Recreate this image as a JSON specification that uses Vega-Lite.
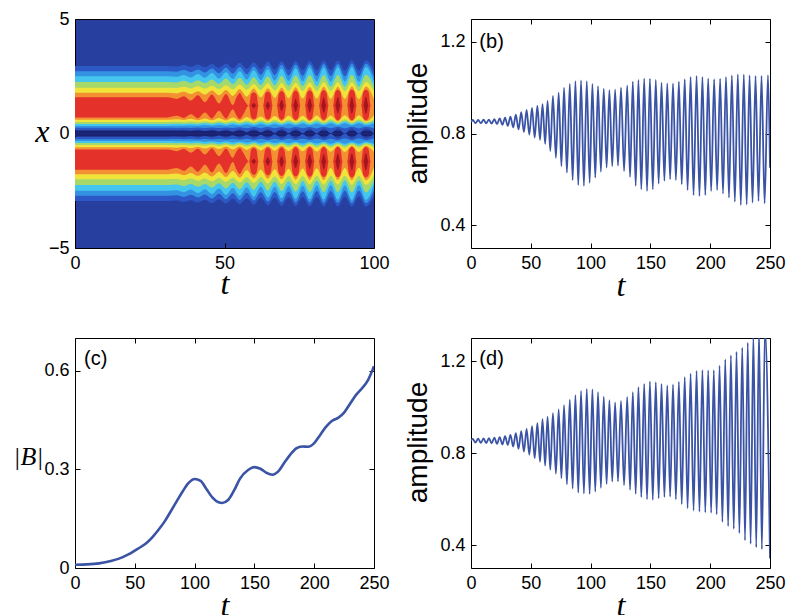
{
"$schema": "https://vega.github.io/schema/vega-lite/v6.json",
"background": "white",
"padding": {"left": 12, "top": 9, "right": 0, "bottom": 0},
"config": {
 "font": "Liberation Sans",
 "view": {"stroke": "black", "strokeWidth": 1},
 "axis": {"labelFont": "Liberation Sans", "labelFontSize": 18, "labelColor": "black", "tickColor": "black", "tickSize": -5, "labelPadding": 11, "domain": false, "grid": false, "labelFlush": false, "labelOverlap": false, "titleFont": "Liberation Serif", "titleFontStyle": "italic", "titleFontWeight": "normal", "titleFontSize": 32, "titleColor": "black"}
},
"datasets": {
 "navy": [{"t": 0, "n0": 0, "n1": 0.12}, {"t": 100, "n0": 0, "n1": 0.12}],
 "heat": [
  {"t":0,"b0":0.15,"b1":2.95,"l0":0.25,"l1":2.72,"c0":0.33,"c1":2.5,"g0":0.42,"g1":2.25,"y0":0.5,"y1":2.0,"o0":0.6,"o1":1.78},
  {"t":31,"b0":0.15,"b1":2.95,"l0":0.25,"l1":2.72,"c0":0.33,"c1":2.5,"g0":0.42,"g1":2.25,"y0":0.5,"y1":2.0,"o0":0.6,"o1":1.78},
  {"t":34,"b0":0.14,"b1":2.93,"l0":0.24,"l1":2.7,"c0":0.34,"c1":2.48,"g0":0.43,"g1":2.23,"y0":0.51,"y1":1.99,"o0":0.62,"o1":1.75},
  {"t":36.4,"b0":0.16,"b1":2.99,"l0":0.25,"l1":2.77,"c0":0.34,"c1":2.56,"g0":0.42,"g1":2.3,"y0":0.5,"y1":2.04,"o0":0.59,"o1":1.82},
  {"t":38.75,"b0":0.12,"b1":2.91,"l0":0.24,"l1":2.68,"c0":0.35,"c1":2.45,"g0":0.44,"g1":2.21,"y0":0.52,"y1":1.97,"o0":0.64,"o1":1.72},
  {"t":41.1,"b0":0.17,"b1":3.01,"l0":0.26,"l1":2.8,"c0":0.34,"c1":2.6,"g0":0.42,"g1":2.33,"y0":0.5,"y1":2.06,"o0":0.58,"o1":1.85},
  {"t":43.45,"b0":0.11,"b1":2.89,"l0":0.24,"l1":2.66,"c0":0.37,"c1":2.43,"g0":0.46,"g1":2.2,"y0":0.54,"y1":1.96,"o0":0.66,"o1":1.7},
  {"t":45.8,"b0":0.18,"b1":3.04,"l0":0.26,"l1":2.84,"c0":0.34,"c1":2.64,"g0":0.42,"g1":2.36,"y0":0.49,"y1":2.09,"o0":0.58,"o1":1.88},
  {"t":48.15,"b0":0.09,"b1":2.87,"l0":0.24,"l1":2.63,"c0":0.38,"c1":2.4,"g0":0.47,"g1":2.17,"y0":0.55,"y1":1.94,"o0":0.68,"o1":1.67},
  {"t":50.5,"b0":0.18,"b1":3.06,"l0":0.26,"l1":2.87,"c0":0.34,"c1":2.68,"g0":0.42,"g1":2.4,"y0":0.49,"y1":2.11,"o0":0.57,"o1":1.9},
  {"t":52.8,"b0":0.08,"b1":2.85,"l0":0.24,"l1":2.61,"c0":0.39,"c1":2.38,"g0":0.48,"g1":2.15,"y0":0.56,"y1":1.93,"o0":0.7,"o1":1.64},
  {"t":55.1,"b0":0.19,"b1":3.09,"l0":0.27,"l1":2.9,"c0":0.35,"c1":2.72,"g0":0.42,"g1":2.43,"y0":0.49,"y1":2.14,"o0":0.56,"o1":1.93},
  {"t":57.45,"b0":0.06,"b1":2.83,"l0":0.23,"l1":2.59,"c0":0.4,"c1":2.35,"g0":0.49,"g1":2.13,"y0":0.57,"y1":1.91,"o0":0.72,"o1":1.61},
  {"t":59.8,"b0":0.2,"b1":3.11,"l0":0.28,"l1":2.93,"c0":0.35,"c1":2.76,"g0":0.42,"g1":2.46,"y0":0.49,"y1":2.16,"o0":0.56,"o1":1.96},
  {"t":62.15,"b0":0.05,"b1":2.81,"l0":0.23,"l1":2.57,"c0":0.41,"c1":2.33,"g0":0.5,"g1":2.11,"y0":0.58,"y1":1.9,"o0":0.74,"o1":1.58},
  {"t":64.5,"b0":0.2,"b1":3.14,"l0":0.28,"l1":2.97,"c0":0.35,"c1":2.8,"g0":0.42,"g1":2.5,"y0":0.49,"y1":2.19,"o0":0.55,"o1":1.98},
  {"t":66.8,"b0":0.03,"b1":2.79,"l0":0.23,"l1":2.55,"c0":0.42,"c1":2.31,"g0":0.5,"g1":2.1,"y0":0.59,"y1":1.88,"o0":0.76,"o1":1.56},
  {"t":69.1,"b0":0.21,"b1":3.16,"l0":0.28,"l1":3.0,"c0":0.36,"c1":2.83,"g0":0.42,"g1":2.52,"y0":0.48,"y1":2.21,"o0":0.54,"o1":2.0},
  {"t":71.45,"b0":0.02,"b1":2.78,"l0":0.22,"l1":2.53,"c0":0.43,"c1":2.29,"g0":0.51,"g1":2.08,"y0":0.6,"y1":1.87,"o0":0.77,"o1":1.54},
  {"t":73.8,"b0":0.21,"b1":3.17,"l0":0.28,"l1":3.01,"c0":0.36,"c1":2.85,"g0":0.42,"g1":2.54,"y0":0.48,"y1":2.22,"o0":0.54,"o1":2.02},
  {"t":76.15,"b0":0.02,"b1":2.77,"l0":0.23,"l1":2.52,"c0":0.44,"c1":2.28,"g0":0.52,"g1":2.07,"y0":0.61,"y1":1.87,"o0":0.78,"o1":1.53},
  {"t":78.5,"b0":0.21,"b1":3.18,"l0":0.28,"l1":3.02,"c0":0.36,"c1":2.87,"g0":0.42,"g1":2.55,"y0":0.48,"y1":2.23,"o0":0.54,"o1":2.03},
  {"t":80.85,"b0":0.01,"b1":2.76,"l0":0.22,"l1":2.51,"c0":0.44,"c1":2.27,"g0":0.52,"g1":2.06,"y0":0.61,"y1":1.86,"o0":0.79,"o1":1.52},
  {"t":83.2,"b0":0.22,"b1":3.19,"l0":0.29,"l1":3.03,"c0":0.36,"c1":2.88,"g0":0.42,"g1":2.56,"y0":0.48,"y1":2.24,"o0":0.53,"o1":2.04},
  {"t":85.55,"b0":0.01,"b1":2.76,"l0":0.23,"l1":2.51,"c0":0.45,"c1":2.26,"g0":0.53,"g1":2.06,"y0":0.62,"y1":1.86,"o0":0.79,"o1":1.51},
  {"t":87.9,"b0":0.22,"b1":3.19,"l0":0.29,"l1":3.04,"c0":0.36,"c1":2.89,"g0":0.42,"g1":2.56,"y0":0.48,"y1":2.24,"o0":0.53,"o1":2.04},
  {"t":90.25,"b0":0,"b1":2.75,"l0":0.22,"l1":2.5,"c0":0.45,"c1":2.26,"g0":0.53,"g1":2.05,"y0":0.62,"y1":1.85,"o0":0.8,"o1":1.51},
  {"t":92.6,"b0":0.22,"b1":3.2,"l0":0.29,"l1":3.05,"c0":0.36,"c1":2.9,"g0":0.42,"g1":2.57,"y0":0.48,"y1":2.25,"o0":0.53,"o1":2.05},
  {"t":94.95,"b0":0,"b1":2.75,"l0":0.22,"l1":2.5,"c0":0.45,"c1":2.25,"g0":0.53,"g1":2.05,"y0":0.62,"y1":1.85,"o0":0.8,"o1":1.5},
  {"t":97.3,"b0":0.22,"b1":3.2,"l0":0.29,"l1":3.05,"c0":0.36,"c1":2.9,"g0":0.42,"g1":2.57,"y0":0.48,"y1":2.25,"o0":0.53,"o1":2.05},
  {"t":100,"b0":0,"b1":2.75,"l0":0.22,"l1":2.5,"c0":0.45,"c1":2.25,"g0":0.53,"g1":2.05,"y0":0.62,"y1":1.85,"o0":0.8,"o1":1.5}
 ],
 "blob": [
  {"t":0,"r0":0.7,"r1":1.58},{"t":31,"r0":0.7,"r1":1.58},{"t":34,"r0":0.77,"r1":1.51},{"t":36.4,"r0":0.68,"r1":1.63},{"t":38.75,"r0":0.84,"r1":1.44},{"t":41.1,"r0":0.67,"r1":1.67},{"t":43.45,"r0":0.92,"r1":1.37},{"t":45.8,"r0":0.66,"r1":1.7},{"t":48.15,"r0":0.99,"r1":1.31},{"t":50.5,"r0":0.65,"r1":1.73},{"t":52.8,"r0":1.06,"r1":1.24},{"t":53.95,"r0":0.8,"r1":1.56},{"t":55.1,"r0":0.63,"r1":1.77},{"t":56.25,"r0":0.83,"r1":1.53},
  {"t":58.2,"r0":1.22,"r1":1.22,"d0":1.22,"d1":1.22},{"t":58.9,"r0":0.72,"r1":1.7,"d0":1.22,"d1":1.22},{"t":59.8,"r0":0.62,"r1":1.8,"d0":1.1,"d1":1.33},{"t":60.7,"r0":0.72,"r1":1.7,"d0":1.22,"d1":1.22},{"t":61.4,"r0":1.22,"r1":1.22,"d0":1.22,"d1":1.22},
  {"t":62.9,"r0":1.22,"r1":1.22,"d0":1.22,"d1":1.22},{"t":63.6,"r0":0.71,"r1":1.73,"d0":1.22,"d1":1.22},{"t":64.5,"r0":0.61,"r1":1.83,"d0":1.03,"d1":1.4},{"t":65.4,"r0":0.71,"r1":1.73,"d0":1.22,"d1":1.22},{"t":66.1,"r0":1.22,"r1":1.22,"d0":1.22,"d1":1.22},
  {"t":67.5,"r0":1.22,"r1":1.22,"d0":1.22,"d1":1.22},{"t":68.2,"r0":0.71,"r1":1.75,"d0":1.22,"d1":1.22},{"t":69.1,"r0":0.6,"r1":1.86,"d0":0.98,"d1":1.47},{"t":70,"r0":0.71,"r1":1.75,"d0":1.22,"d1":1.22},{"t":70.7,"r0":1.22,"r1":1.22,"d0":1.22,"d1":1.22},
  {"t":72.2,"r0":1.22,"r1":1.22,"d0":1.22,"d1":1.22},{"t":72.9,"r0":0.7,"r1":1.77,"d0":1.22,"d1":1.22},{"t":73.8,"r0":0.59,"r1":1.88,"d0":0.93,"d1":1.52},{"t":74.7,"r0":0.7,"r1":1.77,"d0":1.22,"d1":1.22},{"t":75.4,"r0":1.22,"r1":1.22,"d0":1.22,"d1":1.22},
  {"t":76.9,"r0":1.22,"r1":1.22,"d0":1.22,"d1":1.22},{"t":77.6,"r0":0.7,"r1":1.78,"d0":1.22,"d1":1.22},{"t":78.5,"r0":0.59,"r1":1.89,"d0":0.91,"d1":1.55},{"t":79.4,"r0":0.7,"r1":1.78,"d0":1.22,"d1":1.22},{"t":80.1,"r0":1.22,"r1":1.22,"d0":1.22,"d1":1.22},
  {"t":81.6,"r0":1.22,"r1":1.22,"d0":1.22,"d1":1.22},{"t":82.3,"r0":0.7,"r1":1.79,"d0":1.22,"d1":1.22},{"t":83.2,"r0":0.59,"r1":1.9,"d0":0.89,"d1":1.58},{"t":84.1,"r0":0.7,"r1":1.79,"d0":1.22,"d1":1.22},{"t":84.8,"r0":1.22,"r1":1.22,"d0":1.22,"d1":1.22},
  {"t":86.3,"r0":1.22,"r1":1.22,"d0":1.22,"d1":1.22},{"t":87,"r0":0.69,"r1":1.8,"d0":1.22,"d1":1.22},{"t":87.9,"r0":0.58,"r1":1.91,"d0":0.87,"d1":1.6},{"t":88.8,"r0":0.69,"r1":1.8,"d0":1.22,"d1":1.22},{"t":89.5,"r0":1.22,"r1":1.22,"d0":1.22,"d1":1.22},
  {"t":91,"r0":1.22,"r1":1.22,"d0":1.22,"d1":1.22},{"t":91.7,"r0":0.69,"r1":1.81,"d0":1.22,"d1":1.22},{"t":92.6,"r0":0.58,"r1":1.92,"d0":0.86,"d1":1.61},{"t":93.5,"r0":0.69,"r1":1.81,"d0":1.22,"d1":1.22},{"t":94.2,"r0":1.22,"r1":1.22,"d0":1.22,"d1":1.22},
  {"t":95.7,"r0":1.22,"r1":1.22,"d0":1.22,"d1":1.22},{"t":96.4,"r0":0.69,"r1":1.81,"d0":1.22,"d1":1.22},{"t":97.3,"r0":0.58,"r1":1.92,"d0":0.85,"d1":1.62},{"t":98.2,"r0":0.69,"r1":1.81,"d0":1.22,"d1":1.22},{"t":98.9,"r0":1.22,"r1":1.22,"d0":1.22,"d1":1.22},
  {"t":100,"r0":1.22,"r1":1.22,"d0":1.22,"d1":1.22}
 ],
 "b": [{"t":0,"a":0.85},{"t":1.5,"a":0.859},{"t":3.75,"a":0.845},{"t":6,"a":0.859},{"t":8.25,"a":0.845},{"t":10.5,"a":0.86},{"t":12.75,"a":0.844},{"t":15,"a":0.861},{"t":17.25,"a":0.843},{"t":19.5,"a":0.863},{"t":21.75,"a":0.841},{"t":24,"a":0.866},{"t":26.25,"a":0.838},{"t":28.5,"a":0.869},{"t":30.75,"a":0.833},{"t":33,"a":0.874},{"t":35.25,"a":0.827},{"t":37.5,"a":0.882},{"t":39.75,"a":0.818},{"t":42,"a":0.893},{"t":44.25,"a":0.806},{"t":46.5,"a":0.903},{"t":48.75,"a":0.795},{"t":51,"a":0.912},{"t":53.25,"a":0.782},{"t":55.5,"a":0.92},{"t":57.7,"a":0.772},{"t":59.8,"a":0.928},{"t":62,"a":0.755},{"t":64,"a":0.942},{"t":66.3,"a":0.724},{"t":68.5,"a":0.964},{"t":71,"a":0.694},{"t":73.3,"a":0.978},{"t":75.6,"a":0.658},{"t":77.8,"a":1.0},{"t":80.2,"a":0.629},{"t":82.6,"a":1.017},{"t":85,"a":0.596},{"t":87.3,"a":1.029},{"t":89.7,"a":0.575},{"t":92,"a":1.032},{"t":94.4,"a":0.571},{"t":96.8,"a":1.029},{"t":99.2,"a":0.585},{"t":101.5,"a":1.017},{"t":103.9,"a":0.607},{"t":106.2,"a":1.007},{"t":108.6,"a":0.633},{"t":111,"a":0.996},{"t":113.4,"a":0.651},{"t":115.7,"a":0.989},{"t":118.1,"a":0.658},{"t":120.5,"a":0.991},{"t":122.9,"a":0.66},{"t":125.4,"a":1.0},{"t":128,"a":0.636},{"t":130.6,"a":1.01},{"t":133,"a":0.61},{"t":135.3,"a":1.026},{"t":137.7,"a":0.571},{"t":140,"a":1.034},{"t":142.4,"a":0.556},{"t":144.8,"a":1.041},{"t":147.2,"a":0.549},{"t":149.6,"a":1.04},{"t":152,"a":0.556},{"t":154.5,"a":1.034},{"t":156.9,"a":0.581},{"t":159.3,"a":1.022},{"t":161.7,"a":0.593},{"t":164.1,"a":1.019},{"t":166.5,"a":0.6},{"t":168.9,"a":1.019},{"t":171.3,"a":0.596},{"t":173.8,"a":1.026},{"t":176.2,"a":0.578},{"t":178.7,"a":1.037},{"t":181.1,"a":0.553},{"t":183.6,"a":1.047},{"t":186.1,"a":0.531},{"t":188.6,"a":1.051},{"t":191,"a":0.527},{"t":193.5,"a":1.047},{"t":195.9,"a":0.531},{"t":198.3,"a":1.041},{"t":200.8,"a":0.549},{"t":203.3,"a":1.037},{"t":205.8,"a":0.553},{"t":208.3,"a":1.039},{"t":210.7,"a":0.538},{"t":213.2,"a":1.047},{"t":215.7,"a":0.52},{"t":218.1,"a":1.054},{"t":220.6,"a":0.502},{"t":223.1,"a":1.058},{"t":225.6,"a":0.488},{"t":228.1,"a":1.057},{"t":230.5,"a":0.49},{"t":232.9,"a":1.054},{"t":235.4,"a":0.498},{"t":237.9,"a":1.051},{"t":240.4,"a":0.505},{"t":242.9,"a":1.051},{"t":245.5,"a":0.495},{"t":248.3,"a":1.055},{"t":250,"a":0.65}],
 "c": [{"t":0,"B":0.01},{"t":10,"B":0.011},{"t":20,"B":0.014},{"t":30,"B":0.021},{"t":40,"B":0.033},{"t":45,"B":0.042},{"t":50,"B":0.053},{"t":55,"B":0.064},{"t":60,"B":0.077},{"t":65,"B":0.095},{"t":70,"B":0.117},{"t":75,"B":0.142},{"t":80,"B":0.172},{"t":85,"B":0.203},{"t":90,"B":0.233},{"t":95,"B":0.259},{"t":100,"B":0.271},{"t":105,"B":0.265},{"t":110,"B":0.24},{"t":115,"B":0.214},{"t":120,"B":0.2},{"t":123,"B":0.198},{"t":128,"B":0.207},{"t":133,"B":0.236},{"t":138,"B":0.272},{"t":145,"B":0.299},{"t":150,"B":0.307},{"t":155,"B":0.302},{"t":160,"B":0.29},{"t":165,"B":0.284},{"t":170,"B":0.294},{"t":175,"B":0.32},{"t":180,"B":0.345},{"t":185,"B":0.364},{"t":190,"B":0.37},{"t":195,"B":0.369},{"t":200,"B":0.38},{"t":205,"B":0.405},{"t":210,"B":0.43},{"t":215,"B":0.448},{"t":220,"B":0.457},{"t":225,"B":0.473},{"t":230,"B":0.5},{"t":235,"B":0.527},{"t":240,"B":0.547},{"t":245,"B":0.572},{"t":250,"B":0.614}],
 "d": [{"t":0,"a":0.853},{"t":1.5,"a":0.861},{"t":3.75,"a":0.845},{"t":6,"a":0.862},{"t":8.25,"a":0.844},{"t":10.5,"a":0.863},{"t":12.75,"a":0.843},{"t":15,"a":0.865},{"t":17.25,"a":0.842},{"t":19.5,"a":0.867},{"t":21.75,"a":0.84},{"t":24,"a":0.869},{"t":26.25,"a":0.837},{"t":28.5,"a":0.873},{"t":30.75,"a":0.835},{"t":33,"a":0.879},{"t":35.25,"a":0.828},{"t":37.5,"a":0.886},{"t":39.75,"a":0.818},{"t":42,"a":0.895},{"t":44.25,"a":0.806},{"t":46.5,"a":0.905},{"t":48.75,"a":0.793},{"t":51,"a":0.917},{"t":53.25,"a":0.778},{"t":55.5,"a":0.93},{"t":57.7,"a":0.762},{"t":59.8,"a":0.947},{"t":62,"a":0.745},{"t":64,"a":0.958},{"t":66.3,"a":0.728},{"t":68.5,"a":0.973},{"t":71,"a":0.71},{"t":73.3,"a":0.99},{"t":75.6,"a":0.69},{"t":77.8,"a":1.008},{"t":80.2,"a":0.664},{"t":82.6,"a":1.032},{"t":85,"a":0.645},{"t":87.3,"a":1.052},{"t":89.7,"a":0.628},{"t":92,"a":1.07},{"t":94.4,"a":0.624},{"t":96.8,"a":1.079},{"t":99.2,"a":0.622},{"t":101.5,"a":1.077},{"t":103.9,"a":0.632},{"t":106.2,"a":1.065},{"t":108.6,"a":0.648},{"t":111,"a":1.045},{"t":113.4,"a":0.665},{"t":115.7,"a":1.03},{"t":118.1,"a":0.676},{"t":120.5,"a":1.02},{"t":122.9,"a":0.677},{"t":125.4,"a":1.026},{"t":128,"a":0.66},{"t":130.6,"a":1.044},{"t":133,"a":0.64},{"t":135.3,"a":1.065},{"t":137.7,"a":0.622},{"t":140,"a":1.086},{"t":142.4,"a":0.608},{"t":144.8,"a":1.1},{"t":147.2,"a":0.598},{"t":149.6,"a":1.111},{"t":152,"a":0.596},{"t":154.5,"a":1.108},{"t":156.9,"a":0.603},{"t":159.3,"a":1.1},{"t":161.7,"a":0.608},{"t":164.1,"a":1.094},{"t":166.5,"a":0.61},{"t":168.9,"a":1.098},{"t":171.3,"a":0.598},{"t":173.8,"a":1.11},{"t":176.2,"a":0.578},{"t":178.7,"a":1.13},{"t":181.1,"a":0.56},{"t":183.6,"a":1.145},{"t":186.1,"a":0.55},{"t":188.6,"a":1.157},{"t":191,"a":0.545},{"t":193.5,"a":1.16},{"t":195.9,"a":0.542},{"t":198.3,"a":1.159},{"t":200.8,"a":0.54},{"t":203,"a":1.16},{"t":205.4,"a":0.533},{"t":207.8,"a":1.18},{"t":210.2,"a":0.5},{"t":212.6,"a":1.207},{"t":215,"a":0.482},{"t":217.3,"a":1.224},{"t":219.7,"a":0.47},{"t":222,"a":1.24},{"t":224.4,"a":0.452},{"t":226.8,"a":1.258},{"t":229.1,"a":0.42},{"t":231.4,"a":1.28},{"t":233.8,"a":0.405},{"t":236.1,"a":1.31},{"t":238.5,"a":0.39},{"t":240.8,"a":1.33},{"t":243.2,"a":0.382},{"t":245.8,"a":1.34},{"t":250,"a":0.341}]
},
"columns": 2,
"spacing": {"row": 90, "column": 97},
"bounds": "flush",
"concat": [
 {
  "width": 299, "height": 229,
  "data": {"name": "heat"},
  "view": {"fill": "#273f9f", "stroke": "black"},
  "encoding": {"x": {"field": "t", "type": "quantitative", "scale": {"domain": [0, 100], "nice": false}, "axis": {"values": [0, 50, 100], "title": "t", "titleY": 45, "titleBaseline": "alphabetic"}}},
  "layer": [
   {"layer": [
    {"data": {"name": "navy"}, "mark": {"type": "area", "color": "#1a2171"}, "encoding": {"y": {"field": "n0", "type": "quantitative", "scale": {"domain": [-5, 5], "nice": false}, "axis": {"values": [-5, 0, 5], "format": "d", "title": "x", "titleAngle": 0, "titleAlign": "right", "titleBaseline": "alphabetic", "titleX": -26, "titleY": 122}}, "y2": {"field": "n1"}}},
    {"mark": {"type": "area", "interpolate": "monotone", "color": "#2b58c4"}, "encoding": {"y": {"field": "b0", "type": "quantitative", "scale": {"domain": [-5, 5], "nice": false}}, "y2": {"field": "b1"}}},
    {"mark": {"type": "area", "interpolate": "monotone", "color": "#3393e2"}, "encoding": {"y": {"field": "l0", "type": "quantitative", "scale": {"domain": [-5, 5], "nice": false}}, "y2": {"field": "l1"}}},
    {"mark": {"type": "area", "interpolate": "monotone", "color": "#45c6ee"}, "encoding": {"y": {"field": "c0", "type": "quantitative", "scale": {"domain": [-5, 5], "nice": false}}, "y2": {"field": "c1"}}},
    {"mark": {"type": "area", "interpolate": "monotone", "color": "#a6d86a"}, "encoding": {"y": {"field": "g0", "type": "quantitative", "scale": {"domain": [-5, 5], "nice": false}}, "y2": {"field": "g1"}}},
    {"mark": {"type": "area", "interpolate": "monotone", "color": "#f0e33a"}, "encoding": {"y": {"field": "y0", "type": "quantitative", "scale": {"domain": [-5, 5], "nice": false}}, "y2": {"field": "y1"}}},
    {"mark": {"type": "area", "interpolate": "monotone", "color": "#f39031"}, "encoding": {"y": {"field": "o0", "type": "quantitative", "scale": {"domain": [-5, 5], "nice": false}}, "y2": {"field": "o1"}}},
    {"data": {"name": "blob"}, "mark": {"type": "area", "interpolate": "monotone", "color": "#e4322b"}, "encoding": {"y": {"field": "r0", "type": "quantitative", "scale": {"domain": [-5, 5], "nice": false}}, "y2": {"field": "r1"}}},
    {"data": {"name": "blob"}, "mark": {"type": "area", "interpolate": "monotone", "color": "#a3161b"}, "encoding": {"y": {"field": "d0", "type": "quantitative", "scale": {"domain": [-5, 5], "nice": false}}, "y2": {"field": "d1"}}},
    {"data": {"values": [{"label": "(a)"}]}, "mark": {"type": "text", "align": "left", "baseline": "middle", "fontSize": 20, "color": "white", "font": "Liberation Sans"}, "encoding": {"x": {"datum": 3, "type": "quantitative"}, "y": {"datum": 4.1, "type": "quantitative"}, "text": {"field": "label"}}}
   ]},
   {"layer": [
    {"data": {"name": "navy"}, "mark": {"type": "area", "color": "#1a2171"}, "encoding": {"y": {"field": "n0", "type": "quantitative", "scale": {"domain": [-5, 5], "nice": false, "reverse": true}, "axis": null}, "y2": {"field": "n1"}}},
    {"mark": {"type": "area", "interpolate": "monotone", "color": "#2b58c4"}, "encoding": {"y": {"field": "b0", "type": "quantitative", "scale": {"domain": [-5, 5], "nice": false, "reverse": true}, "axis": null}, "y2": {"field": "b1"}}},
    {"mark": {"type": "area", "interpolate": "monotone", "color": "#3393e2"}, "encoding": {"y": {"field": "l0", "type": "quantitative", "scale": {"domain": [-5, 5], "nice": false, "reverse": true}, "axis": null}, "y2": {"field": "l1"}}},
    {"mark": {"type": "area", "interpolate": "monotone", "color": "#45c6ee"}, "encoding": {"y": {"field": "c0", "type": "quantitative", "scale": {"domain": [-5, 5], "nice": false, "reverse": true}, "axis": null}, "y2": {"field": "c1"}}},
    {"mark": {"type": "area", "interpolate": "monotone", "color": "#a6d86a"}, "encoding": {"y": {"field": "g0", "type": "quantitative", "scale": {"domain": [-5, 5], "nice": false, "reverse": true}, "axis": null}, "y2": {"field": "g1"}}},
    {"mark": {"type": "area", "interpolate": "monotone", "color": "#f0e33a"}, "encoding": {"y": {"field": "y0", "type": "quantitative", "scale": {"domain": [-5, 5], "nice": false, "reverse": true}, "axis": null}, "y2": {"field": "y1"}}},
    {"mark": {"type": "area", "interpolate": "monotone", "color": "#f39031"}, "encoding": {"y": {"field": "o0", "type": "quantitative", "scale": {"domain": [-5, 5], "nice": false, "reverse": true}, "axis": null}, "y2": {"field": "o1"}}},
    {"data": {"name": "blob"}, "mark": {"type": "area", "interpolate": "monotone", "color": "#e4322b"}, "encoding": {"y": {"field": "r0", "type": "quantitative", "scale": {"domain": [-5, 5], "nice": false, "reverse": true}, "axis": null}, "y2": {"field": "r1"}}},
    {"data": {"name": "blob"}, "mark": {"type": "area", "interpolate": "monotone", "color": "#a3161b"}, "encoding": {"y": {"field": "d0", "type": "quantitative", "scale": {"domain": [-5, 5], "nice": false, "reverse": true}, "axis": null}, "y2": {"field": "d1"}}}
   ]}
  ],
  "resolve": {"scale": {"y": "independent"}}
 },
 {
  "width": 299, "height": 229,
  "layer": [
   {"data": {"name": "b"}, "mark": {"type": "line", "interpolate": "monotone", "color": "#3a53a5", "strokeWidth": 1.8, "clip": true},
    "encoding": {"x": {"field": "t", "type": "quantitative", "scale": {"domain": [0, 250], "nice": false}, "axis": {"values": [0, 50, 100, 150, 200, 250], "title": "t", "titleY": 47, "titleBaseline": "alphabetic"}},
     "y": {"field": "a", "type": "quantitative", "scale": {"domain": [0.3, 1.3], "nice": false, "zero": false}, "axis": {"values": [0.4, 0.8, 1.2], "format": ".1f", "title": "amplitude", "titleFont": "Liberation Sans", "titleFontStyle": "normal", "titleFontSize": 28, "titleAngle": 270, "titleAlign": "center", "titleBaseline": "alphabetic", "titleX": -45, "titleY": 104}}}},
   {"data": {"values": [{"label": "(b)"}]}, "mark": {"type": "text", "align": "left", "baseline": "middle", "fontSize": 20, "color": "black", "font": "Liberation Sans"},
    "encoding": {"x": {"datum": 7, "type": "quantitative", "axis": {"orient": "top", "values": [0, 50, 100, 150, 200, 250], "labels": false, "title": null}},
     "y": {"datum": 1.2, "type": "quantitative", "axis": {"orient": "right", "values": [0.4, 0.8, 1.2], "labels": false, "title": null}}, "text": {"field": "label"}}}
  ],
  "resolve": {"axis": {"x": "independent", "y": "independent"}}
 },
 {
  "width": 299, "height": 230,
  "layer": [
   {"data": {"name": "c"}, "mark": {"type": "line", "interpolate": "monotone", "color": "#3a53a5", "strokeWidth": 2.6, "clip": true},
    "encoding": {"x": {"field": "t", "type": "quantitative", "scale": {"domain": [0, 250], "nice": false}, "axis": {"values": [0, 50, 100, 150, 200, 250], "title": "t", "titleY": 47, "titleBaseline": "alphabetic"}},
     "y": {"field": "B", "type": "quantitative", "scale": {"domain": [0, 0.7], "nice": false}, "axis": {"values": [0, 0.3, 0.6], "format": ".1~f", "title": "|B|", "titleFontSize": 26, "titleAngle": 0, "titleAlign": "right", "titleBaseline": "alphabetic", "titleX": -32, "titleY": 126}}}},
   {"data": {"values": [{"label": "(c)"}]}, "mark": {"type": "text", "align": "left", "baseline": "middle", "fontSize": 20, "color": "black", "font": "Liberation Sans"},
    "encoding": {"x": {"datum": 7.5, "type": "quantitative", "axis": {"orient": "top", "values": [0, 50, 100, 150, 200, 250], "labels": false, "title": null}},
     "y": {"datum": 0.635, "type": "quantitative", "axis": {"orient": "right", "values": [0, 0.3, 0.6], "labels": false, "title": null}}, "text": {"field": "label"}}}
  ],
  "resolve": {"axis": {"x": "independent", "y": "independent"}}
 },
 {
  "width": 299, "height": 230,
  "layer": [
   {"data": {"name": "d"}, "mark": {"type": "line", "interpolate": "monotone", "color": "#3a53a5", "strokeWidth": 1.8, "clip": true},
    "encoding": {"x": {"field": "t", "type": "quantitative", "scale": {"domain": [0, 250], "nice": false}, "axis": {"values": [0, 50, 100, 150, 200, 250], "title": "t", "titleY": 47, "titleBaseline": "alphabetic"}},
     "y": {"field": "a", "type": "quantitative", "scale": {"domain": [0.3, 1.3], "nice": false, "zero": false}, "axis": {"values": [0.4, 0.8, 1.2], "format": ".1f", "title": "amplitude", "titleFont": "Liberation Sans", "titleFontStyle": "normal", "titleFontSize": 28, "titleAngle": 270, "titleAlign": "center", "titleBaseline": "alphabetic", "titleX": -45, "titleY": 104}}}},
   {"data": {"values": [{"label": "(d)"}]}, "mark": {"type": "text", "align": "left", "baseline": "middle", "fontSize": 20, "color": "black", "font": "Liberation Sans"},
    "encoding": {"x": {"datum": 7, "type": "quantitative", "axis": {"orient": "top", "values": [0, 50, 100, 150, 200, 250], "labels": false, "title": null}},
     "y": {"datum": 1.207, "type": "quantitative", "axis": {"orient": "right", "values": [0.4, 0.8, 1.2], "labels": false, "title": null}}, "text": {"field": "label"}}}
  ],
  "resolve": {"axis": {"x": "independent", "y": "independent"}}
 }
]
}
